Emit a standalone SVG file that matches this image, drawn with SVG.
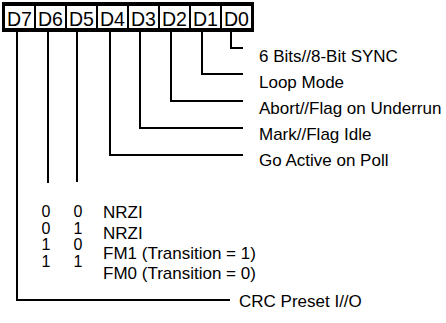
<svg xmlns="http://www.w3.org/2000/svg" width="446" height="323" viewBox="0 0 446 323">
<style>
.lbl{font-family:"Liberation Sans",Arial,sans-serif;font-size:17px;fill:#000}
.hdr{font-family:"Liberation Sans",Arial,sans-serif;font-size:21px;fill:#000;text-anchor:middle}
.dig{font-family:"Liberation Sans",Arial,sans-serif;font-size:16px;fill:#000;text-anchor:middle}
.ln{fill:none;stroke:#000;stroke-width:2}
</style>
<rect width="446" height="323" fill="#fff"/>
<g id="register">
<rect x="2" y="2" width="252" height="30" fill="#000"/>
<rect x="5" y="6" width="29" height="22" fill="#fff"/>
<rect x="36" y="6" width="29" height="22" fill="#fff"/>
<rect x="67" y="6" width="29" height="22" fill="#fff"/>
<rect x="98" y="6" width="29" height="22" fill="#fff"/>
<rect x="129" y="6" width="29" height="22" fill="#fff"/>
<rect x="160" y="6" width="29" height="22" fill="#fff"/>
<rect x="191" y="6" width="29" height="22" fill="#fff"/>
<rect x="222" y="6" width="29" height="22" fill="#fff"/>
<text class="hdr" x="19.5" y="25.5" textLength="25" lengthAdjust="spacingAndGlyphs">D7</text>
<text class="hdr" x="50.5" y="25.5" textLength="25" lengthAdjust="spacingAndGlyphs">D6</text>
<text class="hdr" x="81.5" y="25.5" textLength="25" lengthAdjust="spacingAndGlyphs">D5</text>
<text class="hdr" x="112.5" y="25.5" textLength="25" lengthAdjust="spacingAndGlyphs">D4</text>
<text class="hdr" x="143.5" y="25.5" textLength="25" lengthAdjust="spacingAndGlyphs">D3</text>
<text class="hdr" x="174.5" y="25.5" textLength="25" lengthAdjust="spacingAndGlyphs">D2</text>
<text class="hdr" x="205.5" y="25.5" textLength="25" lengthAdjust="spacingAndGlyphs">D1</text>
<text class="hdr" x="236.5" y="25.5" textLength="25" lengthAdjust="spacingAndGlyphs">D0</text>
</g>
<g id="connectors">
<polyline class="ln" points="17,32 17,300 230,300"/>
<polyline class="ln" points="48,32 48,183"/>
<polyline class="ln" points="77,32 77,182"/>
<polyline class="ln" points="110,32 110,155 243,155"/>
<polyline class="ln" points="140,32 140,128 243,128"/>
<polyline class="ln" points="171,32 171,101 243,101"/>
<polyline class="ln" points="202,32 202,74 243,74"/>
<polyline class="ln" points="231,32 231,48 243,48"/>
</g>
<g id="label-d0"><text class="lbl" x="259" y="62">6 Bits//8-Bit SYNC</text></g>
<g id="label-d1"><text class="lbl" x="259" y="88">Loop Mode</text></g>
<g id="label-d2"><text class="lbl" x="259" y="114">Abort//Flag on Underrun</text></g>
<g id="label-d3"><text class="lbl" x="259" y="140">Mark//Flag Idle</text></g>
<g id="label-d4"><text class="lbl" x="259" y="166">Go Active on Poll</text></g>
<g id="encoding-table">
<text class="dig" x="46" y="217">0</text><text class="dig" x="78" y="217">0</text>
<text class="dig" x="46" y="233.5">0</text><text class="dig" x="78" y="233.5">1</text>
<text class="dig" x="46" y="250">1</text><text class="dig" x="78" y="250">0</text>
<text class="dig" x="46" y="266.5">1</text><text class="dig" x="78" y="266.5">1</text>
<text class="lbl" x="103" y="218">NRZI</text>
<text class="lbl" x="103" y="239">NRZI</text>
<text class="lbl" x="103" y="259">FM1 (Transition = 1)</text>
<text class="lbl" x="103" y="279">FM0 (Transition = 0)</text>
</g>
<g id="label-d7"><text class="lbl" x="239" y="307">CRC Preset I//O</text></g>
</svg>
